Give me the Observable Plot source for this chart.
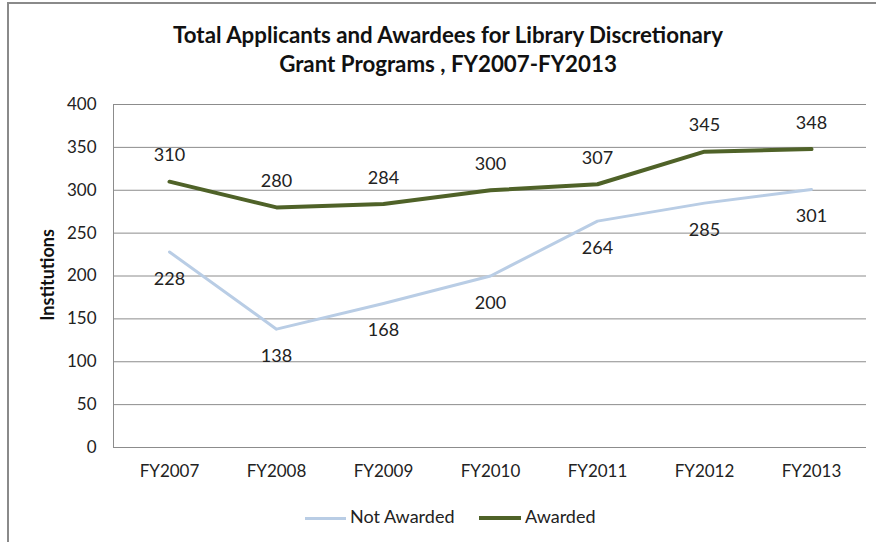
<!DOCTYPE html>
<html>
<head>
<meta charset="utf-8">
<script src="https://cdn.jsdelivr.net/npm/d3@7"></script>
<script src="https://cdn.jsdelivr.net/npm/@observablehq/plot@0.6"></script>
<style>
  body { margin: 0; background: #fff; font-family: Lato, "Open Sans", sans-serif; }
  #wrap { position: relative; width: 876px; height: 542px; overflow: hidden; background: #fff; }
  #border { position: absolute; left: 7px; top: 2px; width: 900px; height: 600px; border-left: 2px solid #8a8a8a; border-top: 2px solid #8a8a8a; }
  #title { position: absolute; left: 0; width: 896px; top: 20px; text-align: center; font-weight: bold; font-size: 22.3px; line-height: 29px; color: #111; }
  #chart { position: absolute; left: 0; top: 0; }
  #ylabel { position: absolute; left: 47px; top: 275px; transform: translate(-50%, -50%) rotate(-90deg); font-weight: bold; font-size: 18px; color: #111; white-space: nowrap; }
  .leg { position: absolute; top: 505px; font-size: 18px; color: #222; line-height: 22px; white-space: nowrap; }
  .sw { display: inline-block; vertical-align: middle; margin-right: 4px; }
</style>
</head>
<body>
<div id="wrap">
  <div id="border"></div>
  <div id="title">Total Applicants and Awardees for Library Discretionary<br>Grant Programs , FY2007-FY2013</div>
  <div id="chart"></div>
  <div id="ylabel">Institutions</div>
  <div class="leg" style="left:305px"><span class="sw" style="width:41px;height:3px;background:#B9CDE5"></span>Not Awarded</div>
  <div class="leg" style="left:479px"><span class="sw" style="width:42px;height:4px;background:#4F6228"></span>Awarded</div>
</div>
<script>
const years = ["FY2007", "FY2008", "FY2009", "FY2010", "FY2011", "FY2012", "FY2013"];
const notAwarded = [228, 138, 168, 200, 264, 285, 301];
const awarded = [310, 280, 284, 300, 307, 345, 348];
const yTicks = [0, 50, 100, 150, 200, 250, 300, 350, 400];

const na = years.map((y, i) => ({year: y, value: notAwarded[i]}));
const aw = years.map((y, i) => ({year: y, value: awarded[i]}));

const chart = Plot.plot({
  width: 876,
  height: 490,
  marginLeft: 113,
  marginRight: 10,
  marginTop: 104,
  marginBottom: 43,
  style: { fontFamily: "Lato, 'Open Sans', sans-serif", fontSize: "17px", color: "#222", background: "transparent" },
  x: { type: "point", domain: years, padding: 0.5, label: null },
  y: { domain: [0, 400], label: null },
  marks: [
    Plot.gridY(yTicks, { stroke: "#8c8c8c", strokeOpacity: 1, strokeWidth: 1 }),
    Plot.ruleY([0], { stroke: "#8c8c8c", strokeWidth: 1 }),
    Plot.frame({ anchor: "left", stroke: "#8c8c8c", strokeWidth: 1 }),
    Plot.axisY({ ticks: yTicks, tickSize: 0, tickPadding: 17, fontSize: 17, fill: "#222" }),
    Plot.axisX({ tickSize: 0, tickPadding: 17, fontSize: 17, fill: "#222" }),
    Plot.line(na, { x: "year", y: "value", stroke: "#B9CDE5", strokeWidth: 3 }),
    Plot.line(aw, { x: "year", y: "value", stroke: "#4F6228", strokeWidth: 4 }),
    Plot.text(na, { x: "year", y: "value", text: d => String(d.value), dy: 27, fontSize: 18, fill: "#222" }),
    Plot.text(aw, { x: "year", y: "value", text: d => String(d.value), dy: -26, fontSize: 18, fill: "#222" })
  ]
});
document.getElementById("chart").appendChild(chart);
</script>
</body>
</html>
